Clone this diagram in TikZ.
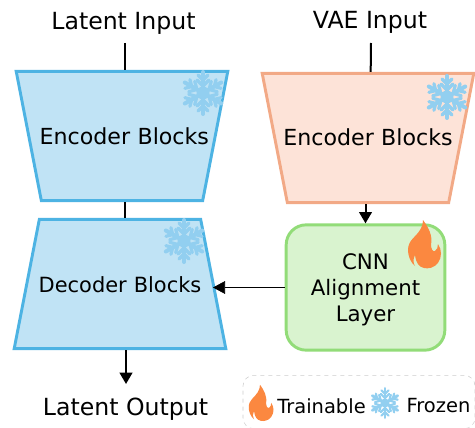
\documentclass[tikz,border=0pt]{standalone}
\usepackage{fontspec}
\setmainfont{DejaVu Sans}
\usetikzlibrary{shapes,arrows,arrows.meta,positioning,calc}
\definecolor{frozenblue}{HTML}{C0E3F5}
\definecolor{frozenline}{HTML}{4DB3E3}
\definecolor{vaefill}{HTML}{FDE3D8}
\definecolor{vaeline}{HTML}{F2A986}
\definecolor{cnnfill}{HTML}{D9F3CF}
\definecolor{cnnline}{HTML}{92DC78}
\definecolor{flakecolor}{HTML}{92CFF0}
\definecolor{flamecolor}{HTML}{FB8840}
\def\flakewd{1}
\newcommand{\blocktext}[1]{\makebox[0pt]{#1}}
\tikzset{
  flake/.pic={
    \foreach \a in {30,90,150,210,270,330} {
      \draw[flakecolor, line width=\flakewd*3pt, rotate=\a, line cap=round] (0,0) -- (21,0);
      \draw[flakecolor, line width=\flakewd*2.4pt, rotate=\a, line cap=round] (7,0) -- (13,6) (7,0) -- (13,-6);
      \draw[flakecolor, line width=\flakewd*2.4pt, rotate=\a, line cap=round] (13,0) -- (18,5) (13,0) -- (18,-5);
    }
    \fill[flakecolor] (0,0) circle (6.5);
  },
  flame/.pic={
    \fill[flamecolor] (-2,-25) .. controls (3,-18) and (8,-10) .. (6,0)
      .. controls (6,4) and (8,7) .. (10,6)
      .. controls (12,5) and (13,2) .. (13,-1)
      .. controls (17,5) and (17,12) .. (13,18)
      .. controls (9,23) and (3,24) .. (-1,23)
      .. controls (-6,22) and (-9,18) .. (-10,10)
      .. controls (-12,14) and (-12,18) .. (-10,21)
      .. controls (-15,17) and (-17,10) .. (-17,5)
      .. controls (-17,-5) and (-9,-8) .. (-5,-15)
      .. controls (-3,-18) and (-2,-22) .. (-2,-25) -- cycle;
  }
}
\begin{document}
\begin{tikzpicture}[x=0.75pt,y=-0.75pt]
  \tikzstyle{label}=[font=\fontsize{17.7pt}{21pt}\selectfont, inner sep=0pt]
  \tikzstyle{block}=[trapezium, draw, line width=2.2pt, trapezium left angle=79, trapezium right angle=79, text width=121pt, text height=54.5pt, text depth=42.5pt, align=center, inner sep=0pt]
  \tikzstyle{down}=[shape border rotate=180]
  \tikzstyle{frozen}=[fill=frozenblue, draw=frozenline]
  \tikzstyle{vae}=[fill=vaefill, draw=vaeline]
  \tikzstyle{link}=[line width=1.5pt]
  \tikzstyle{arrow}=[line width=1.5pt, -{Triangle[length=8.5pt,width=9.5pt]}]
  \tikzstyle{small}=[font=\fontsize{14.6pt}{17pt}\selectfont, inner sep=0pt]
  \useasboundingbox (0,0) rectangle (475,428);

  % Blocks
  \node[block, frozen, down, font=\fontsize{16.6pt}{20pt}\selectfont] (enc) at (122,136) {\hspace*{3.5pt}\blocktext{Encoder Blocks}};
  \node[block, vae, down, font=\fontsize{16.6pt}{20pt}\selectfont] (vae) at (368,138) {\blocktext{Encoder Blocks}};
  \node[block, frozen, font=\fontsize{15.7pt}{19pt}\selectfont] (dec) at (120,284) {\blocktext{Decoder Blocks}};
  \node[draw=cnnline, fill=cnnfill, line width=2.2pt, rounded corners=15pt, minimum width=119pt, minimum height=94pt, align=center, font=\fontsize{16pt}{19.5pt}\selectfont, inner sep=0pt] (cnn) at (365.5,287.5) {\rule{0pt}{15pt}CNN\\Alignment\\Layer};

  % Labels
  \node[label] (latentin) at (123.5,23) {Latent Input};
  \node[label] (vaein) at (370,22) {VAE Input};
  \node[label] (latentout) at (125.5,409) {Latent Output};

  % Connections
  \coordinate (latentinend) at (125,43);
  \coordinate (vaeinend) at (371,43);
  \coordinate (outend) at (126,384);
  \draw[link] (latentinend) -- (latentinend |- enc.north);
  \draw[link] (vaeinend) -- ([xshift=2pt]vae.north);
  \draw[link] (enc.south -| latentinend) -- (dec.north -| latentinend);
  \draw[arrow] (dec.south -| outend) -- (outend);
  \draw[arrow] (vae.south -| cnn) -- (cnn.north);
  \draw[line width=0.5pt, -{Triangle[length=9pt,width=9.5pt]}] (cnn.west) -- (213,287.5);

  % Icons
  \pic at (203,93) {flake};
  \pic at (447,97) {flake};
  \pic at (184,241) {flake};
  \pic at (425,245) {flame};

  % Legend
  \node[draw=gray!40, dashed, rounded corners=8pt, minimum width=174pt, minimum height=40pt, inner sep=0pt] (legend) at (359,402) {};
  \pic[scale=0.75] at (261.5,403.5) {flame};
  \node[small] (trainable) at (321.5,406) {Trainable};
  \def\flakewd{0.7}
  \pic[scale=0.7] at (385,403) {flake};
  \node[small] (frozen) at (438.5,406) {Frozen};
\end{tikzpicture}
\end{document}
